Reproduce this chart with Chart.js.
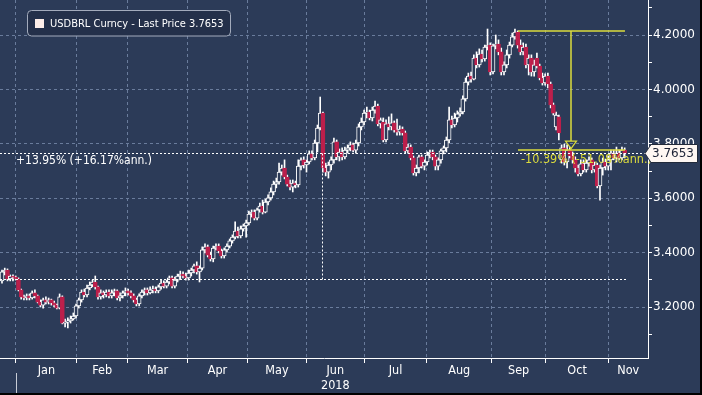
<!DOCTYPE html>
<html><head><meta charset="utf-8">
<script src="https://cdn.jsdelivr.net/npm/chart.js@4"></script>
<style>
html,body{margin:0;padding:0;background:#000;}
canvas{display:block;background:#2c3b58;}
</style></head><body>
<canvas id="c" width="700" height="393" style="width:700px;height:393px"></canvas>
<script>
// ---- data (USDBRL daily candles, late Dec 2017 -> early Nov 2018; index = trading day) ----
const opens = [
3.296,3.329,3.336,3.303,3.314,3.310,3.303,3.263,3.237,3.233,
3.241,3.233,3.252,3.241,3.218,3.207,3.226,3.218,3.226,3.215,
3.207,3.196,3.237,3.141,3.145,3.149,3.156,3.167,3.204,3.226,
3.255,3.244,3.270,3.281,3.292,3.274,3.237,3.252,3.244,3.255,
3.241,3.252,3.259,3.233,3.241,3.252,3.259,3.252,3.241,3.226,
3.211,3.241,3.255,3.263,3.252,3.263,3.266,3.259,3.274,3.288,
3.277,3.292,3.307,3.277,3.299,3.314,3.321,3.314,3.307,3.325,
3.336,3.351,3.329,3.343,3.410,3.421,3.391,3.377,3.417,3.424,
3.406,3.388,3.410,3.424,3.443,3.457,3.479,3.461,3.487,3.498,
3.509,3.542,3.549,3.527,3.557,3.571,3.549,3.586,3.601,3.623,
3.652,3.660,3.696,3.711,3.678,3.652,3.641,3.656,3.649,3.718,
3.741,3.722,3.733,3.763,3.748,3.803,3.858,3.913,3.711,3.696,
3.722,3.741,3.807,3.752,3.770,3.752,3.777,3.785,3.796,3.777,
3.803,3.862,3.880,3.913,3.917,3.895,3.924,3.939,3.873,3.880,
3.814,3.873,3.862,3.877,3.851,3.843,3.854,3.840,3.774,3.788,
3.748,3.693,3.711,3.752,3.718,3.733,3.759,3.770,3.752,3.718,
3.741,3.774,3.785,3.814,3.888,3.869,3.895,3.910,3.917,3.965,
4.027,4.049,4.038,4.115,4.090,4.130,4.112,4.156,4.163,4.064,
4.160,4.167,4.138,4.064,4.090,4.127,4.163,4.193,4.211,4.163,
4.138,4.156,4.090,4.115,4.064,4.115,4.086,4.042,4.024,4.049,
4.020,3.943,3.862,3.899,3.741,3.785,3.733,3.777,3.755,3.741,
3.711,3.689,3.726,3.704,3.729,3.741,3.704,3.722,3.645,3.711,
3.733,3.718,3.741,3.766,3.748,3.766,3.748,3.777];
const highs = [
3.336,3.343,3.340,3.318,3.318,3.314,3.307,3.266,3.244,3.248,
3.248,3.259,3.263,3.244,3.226,3.233,3.237,3.233,3.229,3.222,
3.211,3.248,3.241,3.156,3.160,3.167,3.178,3.211,3.233,3.263,
3.266,3.281,3.292,3.299,3.314,3.277,3.263,3.259,3.263,3.263,
3.263,3.266,3.263,3.252,3.259,3.270,3.266,3.259,3.248,3.233,
3.248,3.263,3.270,3.270,3.274,3.277,3.274,3.281,3.299,3.296,
3.299,3.314,3.314,3.310,3.321,3.332,3.329,3.325,3.336,3.343,
3.358,3.366,3.351,3.421,3.432,3.428,3.402,3.424,3.432,3.432,
3.413,3.417,3.432,3.450,3.465,3.513,3.494,3.498,3.505,3.520,
3.553,3.557,3.557,3.564,3.582,3.593,3.597,3.612,3.638,3.663,
3.674,3.729,3.722,3.741,3.685,3.667,3.667,3.663,3.741,3.748,
3.752,3.741,3.774,3.774,3.814,3.869,3.972,3.917,3.729,3.733,
3.752,3.821,3.814,3.781,3.785,3.788,3.796,3.807,3.803,3.814,
3.873,3.895,3.924,3.935,3.924,3.935,3.957,3.946,3.895,3.895,
3.888,3.899,3.910,3.884,3.891,3.866,3.862,3.847,3.799,3.796,
3.755,3.722,3.759,3.759,3.741,3.770,3.777,3.777,3.759,3.748,
3.781,3.792,3.825,3.935,3.902,3.913,3.921,3.932,3.976,4.042,
4.060,4.064,4.127,4.138,4.149,4.145,4.163,4.222,4.171,4.167,
4.200,4.182,4.152,4.101,4.145,4.174,4.207,4.222,4.215,4.182,
4.171,4.167,4.127,4.127,4.108,4.134,4.093,4.060,4.057,4.060,
4.027,3.950,3.917,3.906,3.796,3.799,3.796,3.788,3.770,3.752,
3.722,3.741,3.741,3.741,3.752,3.748,3.733,3.729,3.722,3.748,
3.744,3.755,3.777,3.777,3.788,3.777,3.788,3.785];
const lows = [
3.288,3.318,3.296,3.296,3.296,3.299,3.259,3.229,3.226,3.226,
3.226,3.229,3.233,3.215,3.200,3.196,3.211,3.211,3.207,3.200,
3.193,3.193,3.138,3.127,3.123,3.141,3.152,3.160,3.196,3.218,
3.237,3.237,3.263,3.274,3.266,3.229,3.229,3.233,3.237,3.233,
3.233,3.241,3.226,3.222,3.233,3.241,3.244,3.233,3.218,3.204,
3.204,3.233,3.244,3.244,3.248,3.252,3.252,3.252,3.266,3.270,
3.270,3.285,3.270,3.270,3.292,3.303,3.307,3.299,3.299,3.314,
3.325,3.321,3.292,3.336,3.399,3.384,3.369,3.366,3.410,3.399,
3.380,3.380,3.402,3.417,3.435,3.450,3.454,3.454,3.479,3.457,
3.502,3.531,3.520,3.520,3.549,3.542,3.546,3.575,3.593,3.612,
3.638,3.652,3.685,3.671,3.645,3.630,3.623,3.638,3.641,3.704,
3.711,3.696,3.726,3.741,3.741,3.770,3.851,3.696,3.682,3.674,
3.704,3.729,3.741,3.737,3.741,3.744,3.766,3.774,3.770,3.766,
3.792,3.851,3.869,3.895,3.888,3.884,3.913,3.866,3.858,3.807,
3.807,3.851,3.851,3.843,3.832,3.832,3.832,3.766,3.766,3.741,
3.685,3.682,3.693,3.711,3.704,3.722,3.748,3.741,3.704,3.704,
3.729,3.763,3.770,3.803,3.858,3.862,3.880,3.902,3.910,3.957,
4.016,4.027,4.035,4.079,4.082,4.101,4.104,4.145,4.053,4.057,
4.149,4.127,4.053,4.053,4.079,4.115,4.156,4.185,4.152,4.127,
4.127,4.079,4.053,4.049,4.049,4.079,4.035,4.016,4.016,4.005,
3.932,3.906,3.851,3.814,3.729,3.722,3.711,3.748,3.729,3.696,
3.682,3.682,3.696,3.696,3.718,3.693,3.696,3.638,3.593,3.685,
3.704,3.704,3.704,3.741,3.733,3.741,3.741,3.748];
const closes = [
3.329,3.336,3.303,3.314,3.310,3.303,3.263,3.237,3.233,3.241,
3.233,3.252,3.241,3.218,3.207,3.226,3.218,3.226,3.215,3.207,
3.196,3.237,3.141,3.145,3.149,3.156,3.167,3.204,3.226,3.255,
3.244,3.270,3.281,3.292,3.274,3.237,3.252,3.244,3.255,3.241,
3.252,3.259,3.233,3.241,3.252,3.259,3.252,3.241,3.226,3.211,
3.241,3.255,3.263,3.252,3.263,3.266,3.259,3.274,3.288,3.277,
3.292,3.307,3.277,3.299,3.314,3.321,3.314,3.307,3.325,3.336,
3.351,3.329,3.343,3.410,3.421,3.391,3.377,3.417,3.424,3.406,
3.388,3.410,3.424,3.443,3.457,3.479,3.461,3.487,3.498,3.509,
3.542,3.549,3.527,3.557,3.571,3.549,3.586,3.601,3.623,3.652,
3.660,3.696,3.711,3.678,3.652,3.641,3.656,3.649,3.718,3.741,
3.722,3.733,3.763,3.748,3.803,3.858,3.913,3.711,3.696,3.722,
3.741,3.807,3.752,3.770,3.752,3.777,3.785,3.796,3.777,3.803,
3.862,3.880,3.913,3.917,3.895,3.924,3.939,3.873,3.888,3.814,
3.873,3.862,3.877,3.851,3.843,3.854,3.840,3.774,3.788,3.748,
3.693,3.711,3.752,3.718,3.733,3.759,3.770,3.752,3.718,3.741,
3.774,3.785,3.814,3.888,3.869,3.895,3.910,3.917,3.965,4.027,
4.049,4.038,4.115,4.090,4.130,4.112,4.156,4.163,4.064,4.160,
4.167,4.138,4.064,4.090,4.127,4.163,4.193,4.211,4.163,4.138,
4.156,4.090,4.115,4.064,4.090,4.086,4.042,4.024,4.049,4.020,
3.943,3.913,3.906,3.840,3.785,3.733,3.777,3.755,3.741,3.711,
3.689,3.726,3.704,3.729,3.741,3.704,3.722,3.645,3.711,3.733,
3.718,3.741,3.766,3.748,3.766,3.748,3.777,3.7653];

// month boundaries (trading-day index of first session) and labels
const monthStarts = [5.1, 27.3, 45.8, 67.6, 89.5, 111, 132, 154.9, 178.5, 198.2, 221.1];
const monthLabels = ['Jan','Feb','Mar','Apr','May','Jun','Jul','Aug','Sep','Oct','Nov'];
const yearLabel = '2018';
const yearUnder = 'Jun';
const yMajorTicks = [3.2, 3.4, 3.6, 3.8, 4.0, 4.2];
const yMinorTicks = [3.1, 3.3, 3.5, 3.7, 3.9, 4.1, 4.3];

const legendText = 'USDBRL Curncy - Last Price 3.7653';
const lastPrice = 3.7653;
const lastPriceLabel = '3.7653';
const periodStartLevel = 3.3044;
const changeText = '+13.95% (+16.17%ann.)';
const swingHigh = 4.2147, swingLow = 3.7768;
const swingText = '-10.39% (-51.08%ann.)';

if (![opens.length, highs.length, lows.length].every(n => n === closes.length)) {
  throw new Error('length mismatch ' + [opens.length, highs.length, lows.length, closes.length]);
}

const X_MIN = -0.73, X_MAX = 235.5;
const BG = '#2c3b58', RED = '#bc1f4b', GRID = '#6a7c9c', YEL = '#dcdc3c';

const labelPos = monthStarts.map((s, i) => (s + (i + 1 < monthStarts.length ? monthStarts[i + 1] : X_MAX)) / 2);
const isStart = v => monthStarts.some(s => Math.abs(s - v) < 1e-6);
const isMajorY = v => yMajorTicks.some(m => Math.abs(m - v) < 1e-6);

const up = closes.map((c, i) => c >= opens[i]);

const overlay = {
  id: 'overlay',
  afterDatasetsDraw(chart) {
    const {ctx, chartArea: ca, scales: {x, y}} = chart;
    const px = v => x.getPixelForValue(v), py = v => y.getPixelForValue(v);
    ctx.save();
    // period change measurement (white dashed)
    ctx.strokeStyle = '#ffffff'; ctx.lineWidth = 1; ctx.setLineDash([2, 2]);
    const yS = Math.round(py(periodStartLevel)) + 0.5;
    const yL = Math.round(py(lastPrice)) + 0.5;
    ctx.beginPath(); ctx.moveTo(ca.left, yS); ctx.lineTo(px(228.2), yS); ctx.stroke();
    ctx.beginPath(); ctx.moveTo(ca.left, yL); ctx.lineTo(ca.right, yL); ctx.stroke();
    const xv = Math.round(px(116.5)) + 0.5;
    ctx.beginPath(); ctx.moveTo(xv, yL); ctx.lineTo(xv, yS); ctx.stroke();
    ctx.setLineDash([]);
    ctx.fillStyle = '#ffffff';
    ctx.font = '12px "DejaVu Sans Condensed"';
    ctx.textBaseline = 'top'; ctx.textAlign = 'left';
    ctx.fillText(changeText, px(monthStarts[0]), yL + 1.5);

    // swing measurement (yellow)
    ctx.strokeStyle = YEL; ctx.lineWidth = 1.5;
    const yH = py(swingHigh), yLo = py(swingLow);
    const xa = px(188.1), xb = px(227.1), xm = Math.round(px(207.4));
    ctx.beginPath(); ctx.moveTo(xa, yH); ctx.lineTo(xb, yH); ctx.stroke();
    ctx.beginPath(); ctx.moveTo(xa, yLo); ctx.lineTo(xb, yLo); ctx.stroke();
    ctx.beginPath(); ctx.moveTo(xm, yH); ctx.lineTo(xm, yLo - 9); ctx.stroke();
    ctx.lineWidth = 1.2;
    ctx.beginPath(); ctx.moveTo(xm - 5.5, yLo - 9); ctx.lineTo(xm + 5.5, yLo - 9); ctx.lineTo(xm, yLo - 1.5); ctx.closePath(); ctx.stroke();
    ctx.fillStyle = YEL;
    ctx.font = '12.5px "DejaVu Sans Condensed"';
    ctx.fillText(swingText, xa + 3, yLo + 3);
    ctx.restore();
  },
  afterDraw(chart) {
    const {ctx, chartArea: ca, scales: {x, y}} = chart;
    ctx.save();
    // year separator below the first month boundary
    const xs = Math.round(x.getPixelForValue(monthStarts[0])) + 0.5;
    ctx.strokeStyle = '#c8ccd6'; ctx.lineWidth = 1;
    ctx.beginPath(); ctx.moveTo(xs, ca.bottom + 15); ctx.lineTo(xs, chart.height); ctx.stroke();

    // last price tag on the axis
    const yL = Math.round(y.getPixelForValue(lastPrice)) + 0.5;
    const r = ca.right;
    ctx.beginPath();
    ctx.moveTo(r - 3, yL); ctx.lineTo(r + 3, yL - 9); ctx.lineTo(r + 49.5, yL - 9);
    ctx.lineTo(r + 49.5, yL + 9); ctx.lineTo(r + 3, yL + 9); ctx.closePath();
    ctx.fillStyle = '#fff7f2'; ctx.fill();
    ctx.strokeStyle = '#222a3a'; ctx.lineWidth = 1; ctx.stroke();
    ctx.fillStyle = '#1b2134'; ctx.font = '12px "DejaVu Sans"';
    ctx.textBaseline = 'middle'; ctx.textAlign = 'left';
    ctx.fillText(lastPriceLabel, r + 4, yL + 0.5);

    // legend box
    const bx = 27.5, by = 10.5, bw = 203, bh = 25.5;
    ctx.beginPath();
    ctx.roundRect(bx, by, bw, bh, 4);
    ctx.fillStyle = '#24304a'; ctx.fill();
    ctx.strokeStyle = '#a3abbc'; ctx.lineWidth = 1; ctx.stroke();
    ctx.fillStyle = '#fdeee9'; ctx.fillRect(35, 19, 9, 9);
    ctx.fillStyle = '#ffffff'; ctx.font = '11px "DejaVu Sans Condensed"';
    ctx.textBaseline = 'middle';
    ctx.fillText(legendText, 50, 24);
    ctx.restore();
  }
};

new Chart(document.getElementById('c'), {
  type: 'bar',
  data: {
    datasets: [
      {
        label: 'body',
        data: opens.map((o, i) => ({x: i, y: [o, closes[i]]})),
        backgroundColor: up.map(u => u ? BG : RED),
        borderColor: up.map(u => u ? '#ffffff' : RED),
        borderWidth: 1, borderSkipped: false, barThickness: 4, minBarLength: 1,
        grouped: false, order: 0
      },
      {
        label: 'wick',
        data: lows.map((l, i) => ({x: i, y: [l, highs[i]]})),
        backgroundColor: '#ffffff', borderWidth: 0, barThickness: 1,
        grouped: false, order: 1
      }
    ]
  },
  options: {
    responsive: false, animation: false, devicePixelRatio: 1,
    layout: {padding: 0},
    plugins: {legend: {display: false}, tooltip: {enabled: false}},
    scales: {
      x: {
        type: 'linear', min: X_MIN, max: X_MAX, offset: false,
        afterBuildTicks: s => {
          s.ticks = [...monthStarts, ...labelPos].sort((a, b) => a - b).map(v => ({value: v}));
        },
        afterFit: s => { s.height = 35; s.paddingLeft = 0; s.paddingRight = 0; },
        grid: {
          offset: false,
          color: c => (c.tick && isStart(c.tick.value)) ? GRID : 'rgba(0,0,0,0)',
          tickColor: c => (c.tick && isStart(c.tick.value)) ? '#ffffff' : 'rgba(0,0,0,0)',
          lineWidth: 1, drawTicks: true, tickLength: 5
        },
        border: {display: true, color: '#ffffff', width: 1, dash: [3, 3]},
        ticks: {
          autoSkip: false, maxRotation: 0, minRotation: 0, padding: 0,
          color: '#ffffff', font: {family: 'DejaVu Sans Condensed', size: 12.5},
          callback: v => {
            const k = labelPos.findIndex(p => Math.abs(p - v) < 1e-6);
            if (k < 0) return '';
            return monthLabels[k] === yearUnder ? [monthLabels[k], yearLabel] : monthLabels[k];
          }
        }
      },
      y: {
        position: 'right', min: 3.0125, max: 4.3287,
        afterBuildTicks: s => {
          s.ticks = [...yMajorTicks, ...yMinorTicks].sort((a, b) => a - b).map(v => ({value: v}));
        },
        afterFit: s => { s.width = 52; s.paddingTop = 0; s.paddingBottom = 0; },
        grid: {
          color: c => (c.tick && isMajorY(c.tick.value)) ? GRID : 'rgba(0,0,0,0)',
          tickColor: '#ffffff', lineWidth: 1, drawTicks: true, tickLength: 4
        },
        border: {display: true, color: '#ffffff', width: 1, dash: [3, 3]},
        ticks: {
          padding: 1, color: '#ffffff', font: {family: 'DejaVu Sans', size: 12},
          callback: v => isMajorY(v) ? v.toFixed(4) : ''
        }
      }
    }
  },
  plugins: [overlay]
});
</script>
</body></html>
